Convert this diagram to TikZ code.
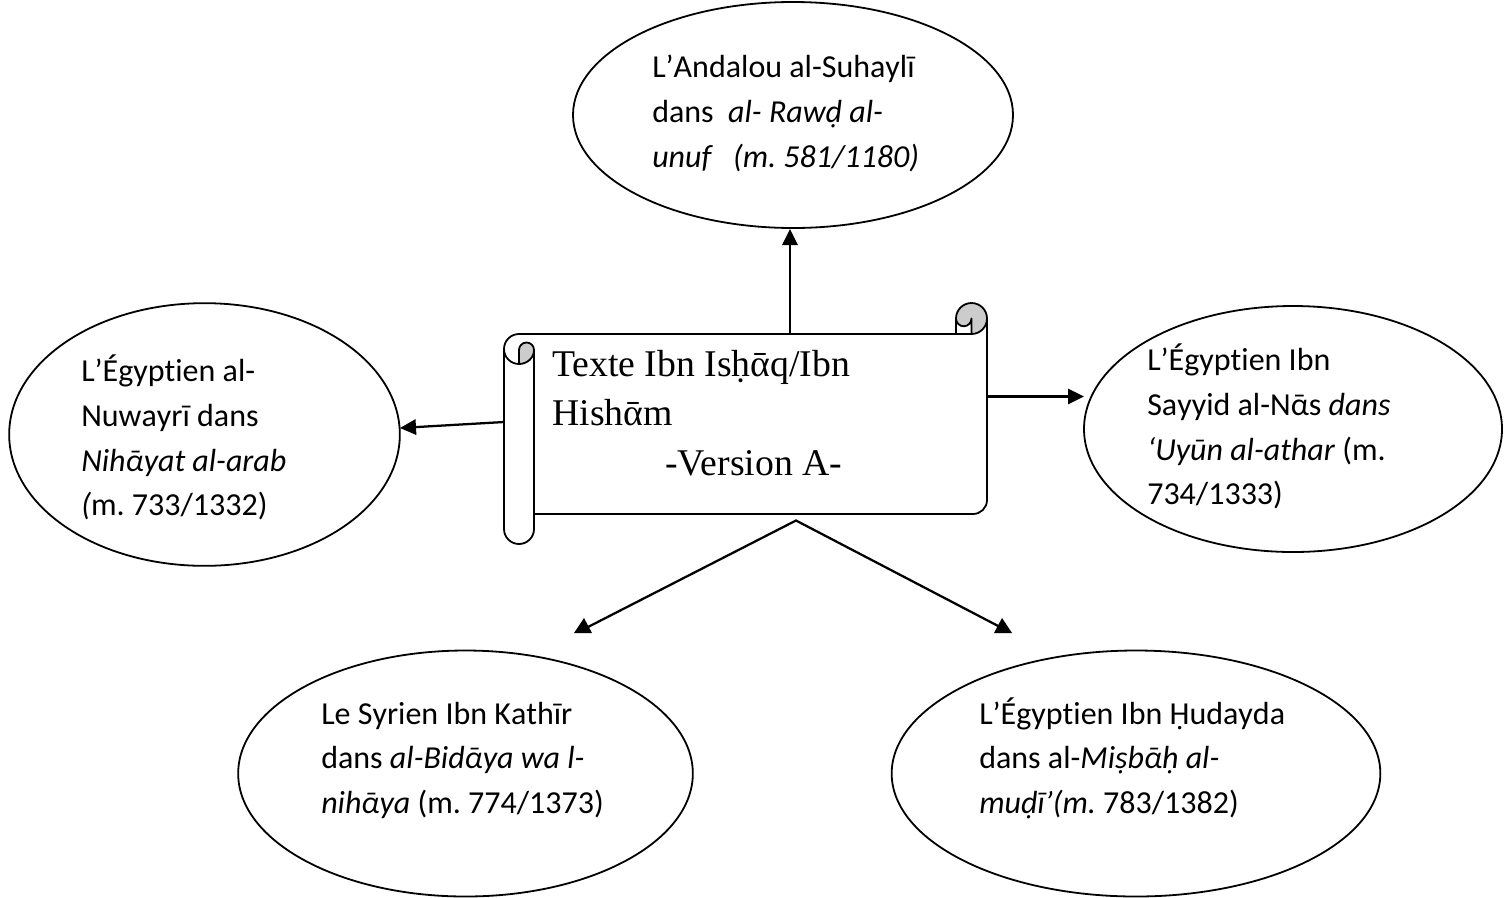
\documentclass[tikz,border=0pt]{standalone}
\usepackage{fontspec}
\setmainfont[Ligatures=NoCommon,Kerning=Off]{Carlito}
\newfontfamily\serifface[Ligatures=NoCommon]{Liberation Serif}
\newcommand{\capstrut}{\vphantom{É}}
\frenchspacing
\usetikzlibrary{shapes.geometric,arrows.meta}
\tikzset{
  x=0.75pt,y=-0.75pt,
  bubble/.style={draw=black,line width=1.35pt,ellipse,inner sep=0pt,outer sep=0pt},
  lab/.style={anchor=north west,align=left,inner sep=0pt,font=\frenchspacing\fontsize{24}{33.5}\selectfont},
  link/.style={draw=black,line width=1.7pt,-{Triangle[length=12pt,width=11.5pt]}},
  plainlink/.style={draw=black,line width=1.7pt},
  headfill/.style={fill=black,draw=none},
  outline/.style={draw=black,line width=1.35pt,line join=round}
}
\begin{document}
\begin{tikzpicture}
\useasboundingbox (0,0) rectangle (1512,897);
\node[bubble,minimum width=330pt,minimum height=169.5pt] (top) at (793,115) {};
\node[bubble,minimum width=293pt,minimum height=197pt] (left) at (204.5,434.5) {};
\node[bubble,minimum width=313.5pt,minimum height=184.5pt] (right) at (1293,429) {};
\node[bubble,minimum width=341pt,minimum height=184.5pt] (bl) at (465.5,773.5) {};
\node[bubble,minimum width=366.5pt,minimum height=184.5pt] (br) at (1136,773.5) {};
% scroll
\node[minimum width=362.25pt,minimum height=135pt,inner sep=0pt,outer sep=0pt] (scroll) at (745.5,424) {};
\fill[black!20] (519,364) -- (519,350) arc (180:360:7.5) .. controls (534,358) and (527,364) .. (519,364) -- cycle;
\fill[black!20] (971.5,334) -- (971.5,318.5) arc (0:180:7.75) arc (180:360:15.5) arc (0:90:15.5) -- cycle;
\draw[outline] (519,334) -- (971.5,334) arc (90:0:15.5) arc (0:-180:15.5) arc (180:0:7.75) -- (971.5,334);
\draw[outline] (956,318.5) -- (956,334);
\draw[outline] (987,318.5) -- (987,500) arc (0:90:14) -- (534,514);
\draw[outline] (519,334) arc (-90:-180:15) -- (504,529) arc (180:0:15) -- (534,350) arc (0:-180:7.5) -- (519,364);
\draw[outline] (504,349) arc (180:90:15) .. controls (527,364) and (534,358) .. (534,350);
% texts
\node[lab] (t1) at (652,51) {\capstrut L’Andalou al-Suhaylī\\dans \ \textit{al- Rawḍ al-}\\\textit{unuf \ \ (m. 581/1180)}};
\node[lab] (t2) at (81,355) {\capstrut L’Égyptien al-\\Nuwayrī dans\\\textit{Nihᾱyat al-arab}\\\textit{(}m. 733/1332)};
\node[lab] (t3) at (1147,344) {\capstrut L’Égyptien Ibn\\Sayyid al-Nᾱs \textit{dans}\\\textit{‘Uyūn al-athar} (m.\\734/1333)};
\node[lab] (t4) at (321,697) {\capstrut Le Syrien Ibn Kathīr\\dans \textit{al-Bidᾱya wa l-}\\\textit{nihᾱya} (m. 774/1373)};
\node[lab] (t5) at (979,697) {\capstrut L’Égyptien Ibn Ḥudayda\\dans al-\textit{Miṣbᾱḥ al-}\\\textit{muḍī’(m.} 783/1382)};
\node[anchor=north west,align=left,inner sep=0pt,font=\serifface\fontsize{28.3}{37.1}\selectfont] (t0) at (552,350) {Texte Ibn Isḥᾱq/Ibn\\Hishᾱm\\\hspace{84.75pt}-Version A-};
% connectors
\coordinate (tipT) at (790,229);
\coordinate (tipL) at (400,428);
\coordinate (tailL) at (504,422);
\coordinate (tipR) at (1084,396.5);
\coordinate (apex) at (796,520.5);
\coordinate (endl) at (587,627.5);
\coordinate (endr) at (1002,628);
\draw[link] (scroll.north -| tipT) -- (tipT);
\draw[link] (tailL) -- (tipL);
\draw[link] (scroll.east |- tipR) -- (tipR);
\draw[plainlink,line cap=round] (endl) -- (apex) -- (endr);
\fill[headfill] (574,633) -- (584,618) -- (592,633) -- cycle;
\fill[headfill] (994,633) -- (1002,618) -- (1012,633) -- cycle;
\end{tikzpicture}
\end{document}
